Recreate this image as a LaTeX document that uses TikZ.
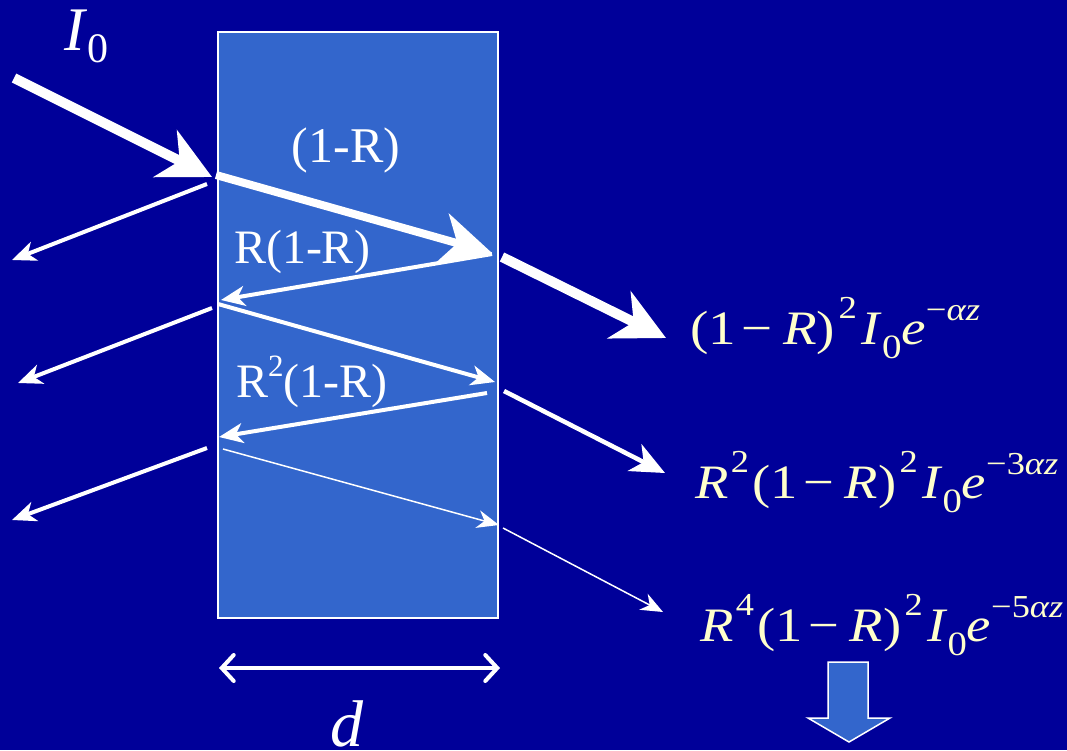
\documentclass[tikz,border=0pt]{standalone}
\usepackage{fontspec}
\setmainfont{Liberation Serif}
\usetikzlibrary{arrows.meta}
\definecolor{bg}{HTML}{000099}
\definecolor{slab}{HTML}{3366CC}
\definecolor{cream}{HTML}{FFFFCC}
\newcommand\mysup[1]{\raisebox{0.53em}{\fontsize{32}{34}\selectfont #1}}
\newcommand\mysub[1]{\raisebox{-0.31em}{\fontsize{34}{36}\selectfont #1}}
\newcommand\myexp[1]{\raisebox{0.5em}{\fontsize{32}{34}\selectfont #1}}
\newcommand\onemr{(1\hspace{5pt}−\hspace{9pt}\textit{R})\hspace{3pt}\mysup{2}\hspace{4pt}\textit{I}\mysub{0}\textit{e}}
\tikzset{
  ray/.style={white, line width=#1},
  bighead/.style={-{Stealth[length=52pt,width=52pt,inset=16pt]}},
  midhead/.style={-{Stealth[length=34pt,width=30pt,inset=10pt]}},
  smallhead/.style={-{Stealth[length=24pt,width=20pt,inset=7pt]}},
  tinyhead/.style={-{Stealth[length=22pt,width=18pt,inset=7pt]}},
  lbl/.style={white, font=\fontsize{50}{54}\selectfont, inner sep=0pt},
  lblsm/.style={white, font=\fontsize{48}{52}\selectfont, inner sep=0pt},
  formula/.style={cream, font=\fontsize{48}{52}\selectfont, inner sep=0pt, anchor=base west},
}
\begin{document}
\begin{tikzpicture}[x=1pt,y=-1pt]
\useasboundingbox (0,0) rectangle (1067,750);
\fill[bg] (0,0) rectangle (1067,750);
% slab
\draw[white, line width=2pt, fill=slab] (218,32) rectangle (498,618);
% key points
\coordinate (s0) at (14,78);
\coordinate (h0) at (212,177);
\coordinate (a1) at (216,175);
\coordinate (b1) at (492,253);
\coordinate (r1s) at (207,184);
\coordinate (r1e) at (12,260);
\coordinate (b1s) at (492,254);
\coordinate (a2) at (221,300);
\coordinate (r2s) at (212,308);
\coordinate (r2e) at (18,383);
\coordinate (a2s) at (218,304);
\coordinate (b2) at (495,382);
\coordinate (b2s) at (487,393);
\coordinate (a3) at (219,437);
\coordinate (r3s) at (207,448);
\coordinate (r3e) at (12,520);
\coordinate (a3s) at (223,449);
\coordinate (b3) at (499,525);
\coordinate (t1s) at (502,257);
\coordinate (t1e) at (666,338);
\coordinate (t2s) at (504,391);
\coordinate (t2e) at (665,473);
\coordinate (t3s) at (503,528);
\coordinate (t3e) at (663,612);
% rays
\draw[ray=10pt, bighead] (s0) -- (h0);
\draw[ray=8pt, bighead] (a1) -- (b1);
\draw[ray=4pt, smallhead] (r1s) -- (r1e);
\draw[ray=4pt, smallhead] (b1s) -- (a2);
\draw[ray=4pt, smallhead] (r2s) -- (r2e);
\draw[ray=4pt, smallhead] (a2s) -- (b2);
\draw[ray=4pt, smallhead] (b2s) -- (a3);
\draw[ray=4pt, smallhead] (r3s) -- (r3e);
\draw[ray=1.5pt, tinyhead] (a3s) -- (b3);
\draw[ray=10pt, bighead] (t1s) -- (t1e);
\draw[ray=4.5pt, midhead] (t2s) -- (t2e);
\draw[ray=1.5pt, tinyhead] (t3s) -- (t3e);
% labels
\node[white, inner sep=0pt, anchor=base west] (I0) at (64,50) {\fontsize{62}{66}\selectfont\textit{I}\raisebox{-0.2em}{\fontsize{42}{44}\selectfont 0}};
\node[lbl] (l1) at (346,150) {(1-R)};
\node[lblsm] (l2) at (302,252) {R(1-R)};
\node[lblsm, anchor=base west] (l3) at (236,397) {R\raisebox{0.42em}{\fontsize{31}{33}\selectfont 2}(1-R)};
\node[formula] (f1) at (690,344) {\resizebox{290pt}{\height}{\onemr\myexp{−\textit{αz}}}};
\node[formula] (f2) at (695,498) {\resizebox{363pt}{\height}{\textit{R}\hspace{2pt}\mysup{2}\hspace{3pt}\onemr\myexp{−3\textit{αz}}}};
\node[formula] (f3) at (700,641) {\resizebox{363pt}{\height}{\textit{R}\hspace{2pt}\mysup{4}\hspace{3pt}\onemr\myexp{−5\textit{αz}}}};
% width arrow
\coordinate (dl) at (219,668);
\coordinate (dr) at (500,668);
\draw[white, line width=4pt, {Straight Barb[length=12pt,width=26pt,line cap=round]}-{Straight Barb[length=12pt,width=26pt,line cap=round]}] (dl) -- (dr);
\node[white, inner sep=0pt, anchor=base] (d) at (347,746) {\fontsize{66}{70}\selectfont\textit{d}};
% block arrow
\draw[white, line width=1.5pt, fill=slab, line join=miter] (828,662) -- (868,662) -- (868,718) -- (890,718) -- (849,742) -- (808,718) -- (828,718) -- cycle;
\end{tikzpicture}
\end{document}
